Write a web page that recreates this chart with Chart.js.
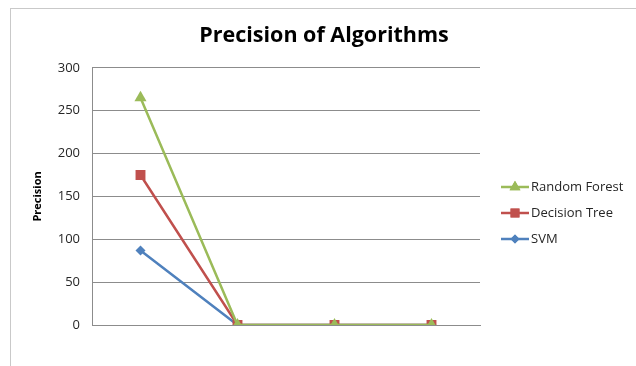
<!DOCTYPE html>
<html>
<head>
<meta charset="utf-8">
<script src="https://cdn.jsdelivr.net/npm/chart.js@4/dist/chart.umd.min.js"></script>
<style>
  html, body { margin: 0; padding: 0; background: #fff; overflow: hidden; }
  #wrap { position: relative; width: 636px; height: 366px; }
  #frame { position: absolute; left: 10px; top: 8px; width: 700px; height: 400px; border: 1px solid #c9c9c9; box-sizing: border-box; }
  canvas { position: absolute; left: 0; top: 0; }
</style>
</head>
<body>
<div id="wrap">
  <div id="frame"></div>
  <canvas id="c" width="636" height="366"></canvas>
</div>
<script>
const categories = ["1", "2", "3", "4"];
const seriesNames = ["Random Forest", "Decision Tree", "SVM"];
const randomForest = [265, 0, 0, 0];
const decisionTree = [175, 0, 0, 0];
const svm = [87, 0, 0, 0];
const yTicks = [0, 50, 100, 150, 200, 250, 300];

const colors = ["#9BBB59", "#C0504D", "#4F81BD"];
const styles = ["triangle", "rect", "rectRot"];
const radii = [7, 7, 5];
const values = [randomForest, decisionTree, svm];

const FONT = "'Open Sans', 'Liberation Sans', sans-serif";

const legendPlugin = {
  id: 'sideLegend',
  afterDraw(chart) {
    const ctx = chart.ctx;
    const x0 = 501, x1 = 529, tx = 531;
    const ys = [187, 213, 239];
    ctx.save();
    chart.data.datasets.forEach((ds, i) => {
      const y = ys[i];
      ctx.strokeStyle = ds.borderColor;
      ctx.lineWidth = 2.5;
      ctx.beginPath();
      ctx.moveTo(x0, y);
      ctx.lineTo(x1, y);
      ctx.stroke();
      ctx.fillStyle = ds.backgroundColor;
      ctx.beginPath();
      const r = ds.pointRadius * 0.9;
      Chart.helpers.drawPoint(ctx, {pointStyle: ds.pointStyle, rotation: 0, borderWidth: 0, radius: r}, (x0 + x1) / 2, y);
      ctx.fill();
      ctx.fillStyle = '#262626';
      ctx.font = "13px " + FONT;
      ctx.textBaseline = 'middle';
      ctx.textAlign = 'left';
      ctx.fillText(ds.label, tx, y);
    });
    ctx.restore();
  }
};

new Chart(document.getElementById('c'), {
  type: 'line',
  data: {
    labels: categories,
    datasets: seriesNames.map((name, i) => ({
      label: name,
      data: values[i],
      borderColor: colors[i],
      backgroundColor: colors[i],
      borderWidth: 2.5,
      pointStyle: styles[i],
      pointRadius: radii[i],
      pointBorderWidth: 0,
      pointHoverRadius: radii[i],
      tension: 0
    }))
  },
  options: {
    responsive: false,
    animation: false,
    devicePixelRatio: 1,
    layout: { padding: { left: 12, right: 0, top: 0, bottom: 0 } },
    plugins: {
      legend: { display: false },
      tooltip: { enabled: false },
      title: {
        display: true,
        text: 'Precision of Algorithms',
        color: '#000',
        font: { family: FONT, size: 21.5, weight: 'bold' },
        padding: { top: 23, bottom: 19 },
        align: 'center'
      }
    },
    scales: {
      x: {
        offset: true,
        grid: { display: false, drawTicks: false },
        border: { display: true, color: '#8c8c8c', width: 1 },
        ticks: { display: false },
        afterFit(scale) { scale.height = 41; }
      },
      y: {
        min: 0,
        max: 300,
        afterBuildTicks(scale) { scale.ticks = yTicks.map(v => ({ value: v })); },
        grid: { color: '#8c8c8c', lineWidth: 1, drawTicks: false },
        border: { display: true, color: '#8c8c8c', width: 1 },
        ticks: { color: '#262626', font: { family: FONT, size: 13 }, padding: 12 },
        title: {
          display: true,
          text: 'Precision',
          color: '#000',
          font: { family: FONT, size: 11, weight: 'bold' },
          padding: { top: 19, bottom: 0 }
        },
        afterFit(scale) { scale.width = 80; }
      },
      yRight: {
        position: 'right',
        display: true,
        min: 0,
        max: 300,
        grid: { display: false, drawTicks: false },
        border: { display: false },
        ticks: { display: false },
        afterFit(scale) { scale.width = 156; }
      }
    }
  },
  plugins: [legendPlugin]
});
</script>
</body>
</html>
